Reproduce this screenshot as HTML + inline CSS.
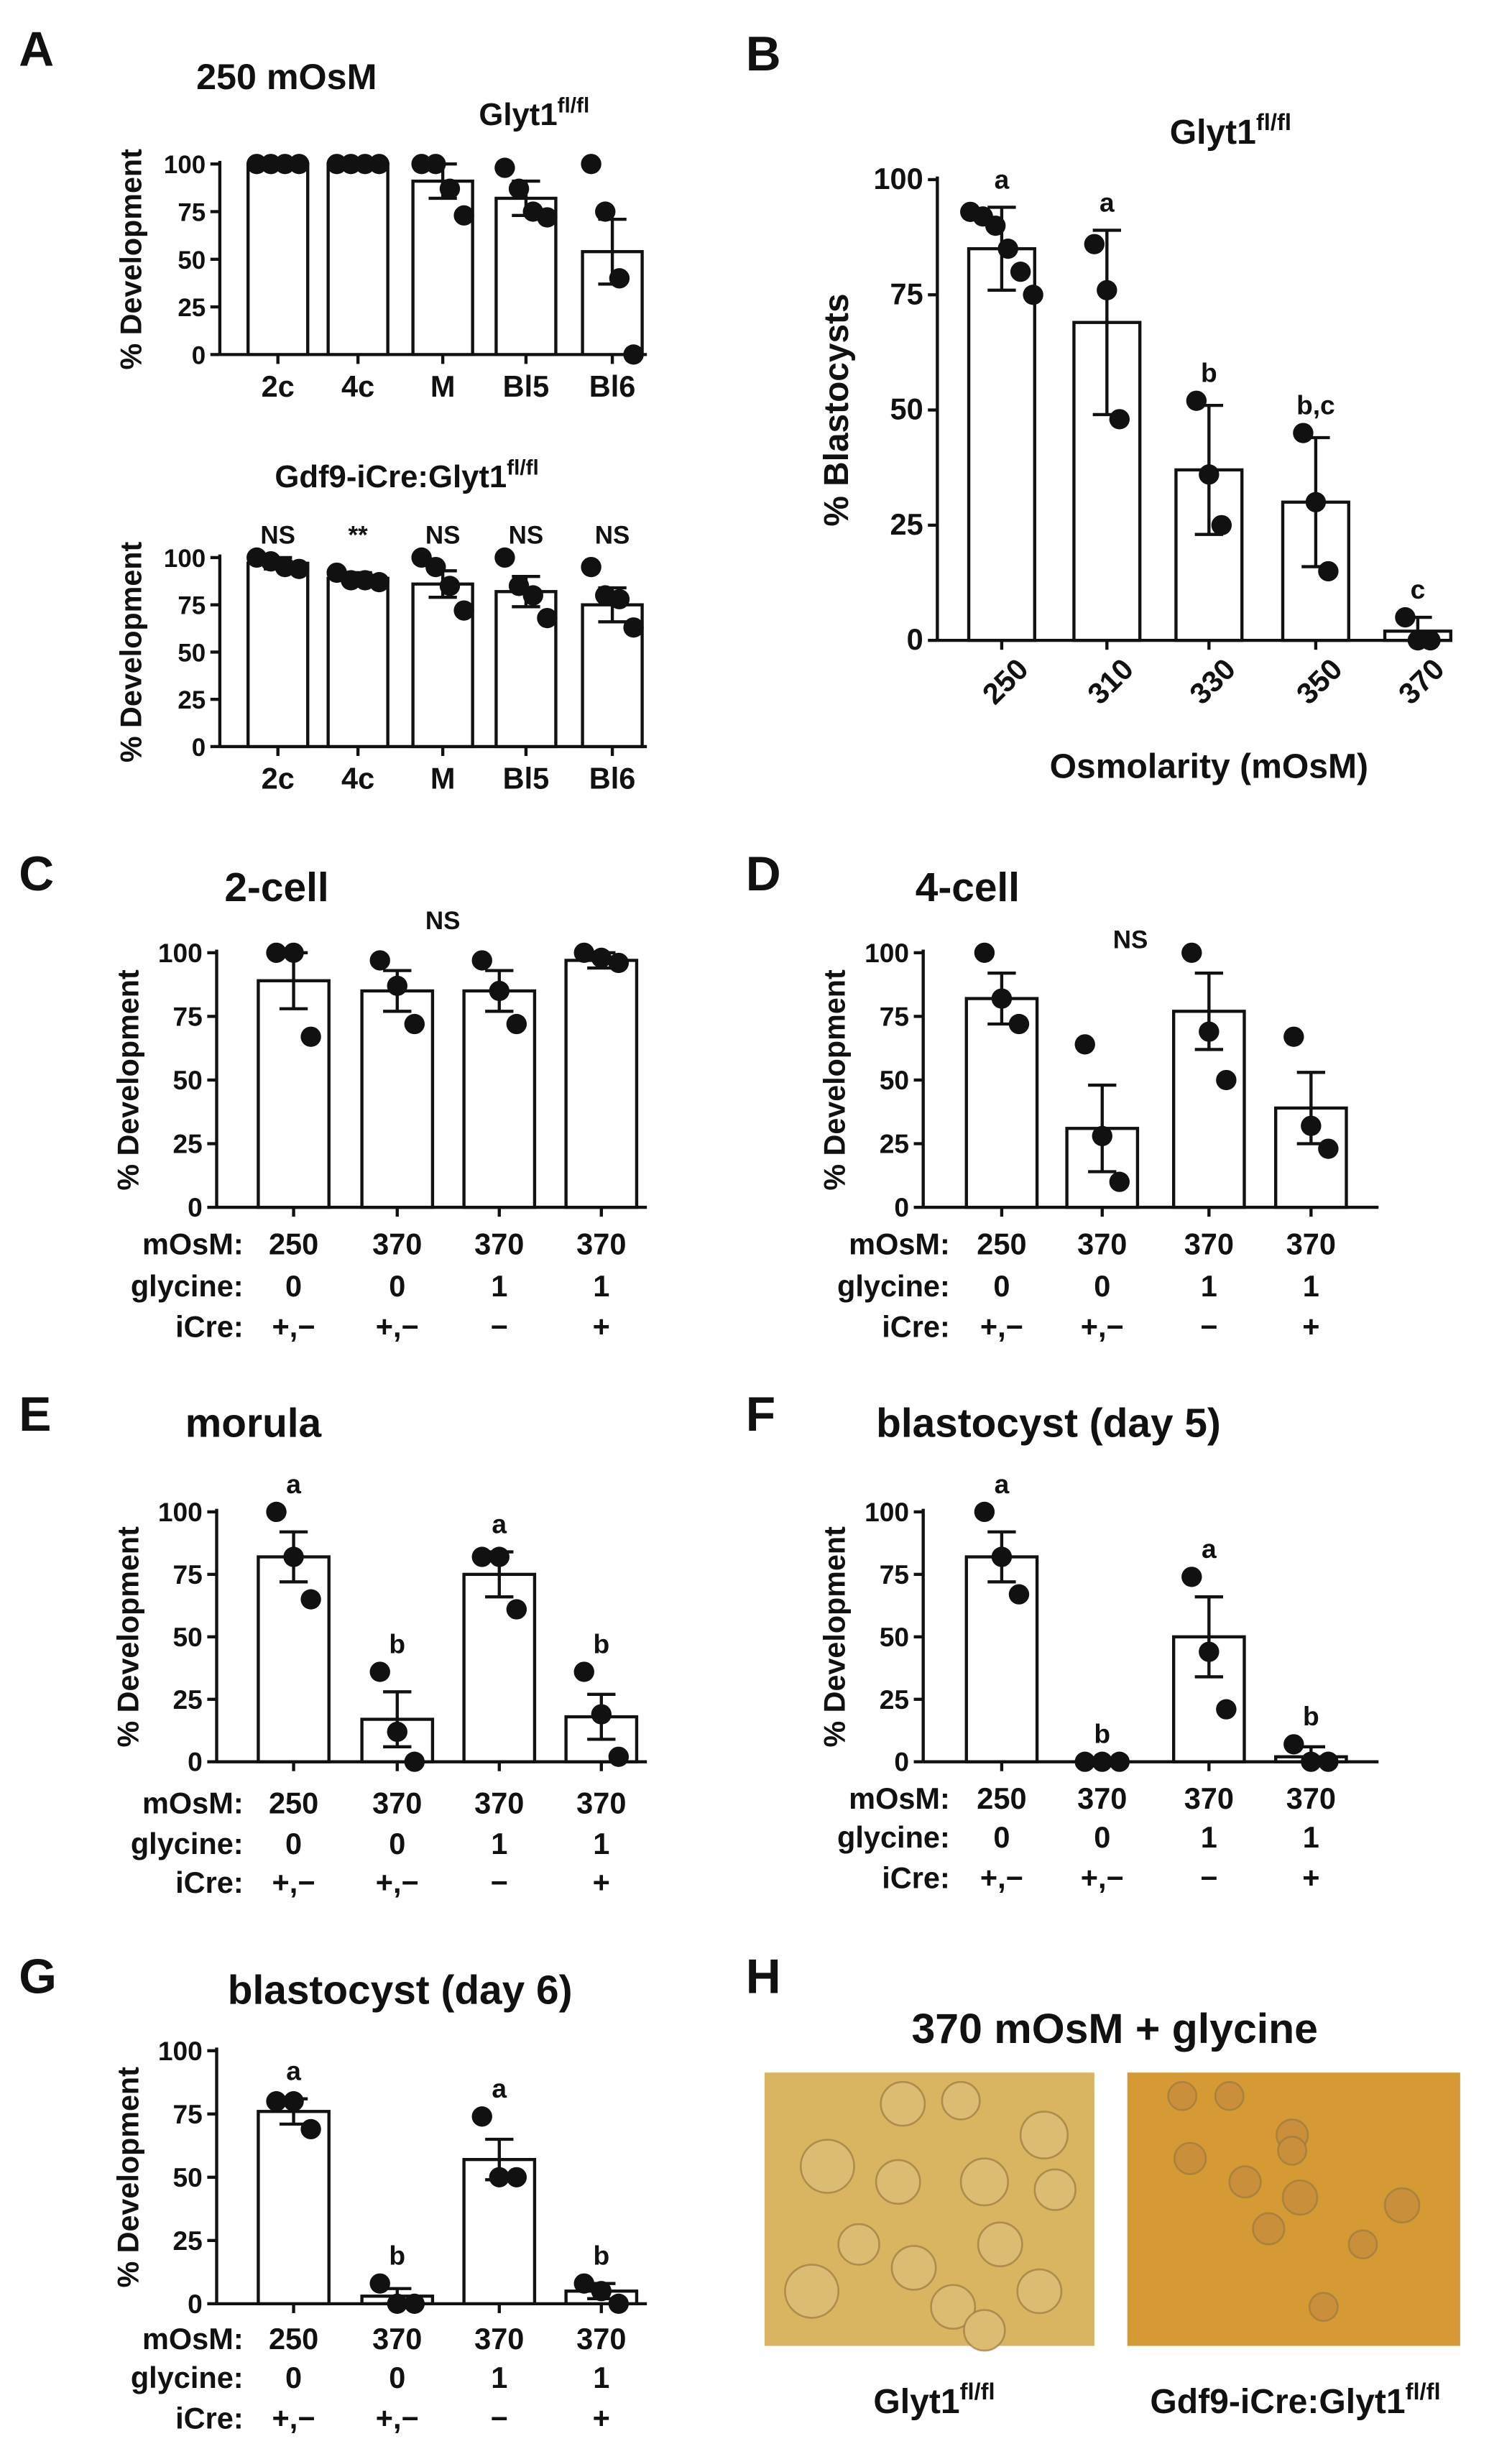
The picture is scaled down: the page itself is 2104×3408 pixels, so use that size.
<!DOCTYPE html>
<html><head><meta charset="utf-8"><style>
html,body{margin:0;padding:0;background:#fff}
svg{display:block}
text{font-family:"Liberation Sans",Arial,sans-serif;font-weight:bold;fill:#111}
</style></head><body>
<svg id="fig" width="2104" height="3408" viewBox="0 0 963 1568" preserveAspectRatio="none" xmlns="http://www.w3.org/2000/svg"></svg>
<script>
// ---- data ----
const aTopCats=["2c","4c","M","Bl5","Bl6"];
const aTopMeans=[100,100,91,82,54];
const aTopErr=[0,0,9,9,17];
const aTopPts=[[100,100,100,100],[100,100,100,100],[100,100,87,73],[98,87,75,72],[100,75,40,0]];
const aBotMeans=[97,89,86,82,75];
const aBotErr=[3,3,7,8,9];
const aBotPts=[[100,98,95,94],[92,88,88,87],[100,95,85,72],[100,85,80,68],[95,80,78,63]];
const aBotSig=["NS","**","NS","NS","NS"];
const bCats=["250","310","330","350","370"];
const bMeans=[85,69,37,30,2];
const bErr=[9,20,14,14,3];
const bPts=[[93,92,90,85,80,75],[86,76,48],[52,36,25],[45,30,15],[5,0,0]];
const bSig=["a","a","b","b,c","c"];
const rowOsm=["250","370","370","370"];
const rowGly=["0","0","1","1"];
const rowCre=["+,\u2212","+,\u2212","\u2212","+"];
const cMeans=[89,85,85,97], cErr=[11,8,8,3], cPts=[[100,100,67],[97,87,72],[97,85,72],[100,98,96]];
const dMeans=[82,31,77,39], dErr=[10,17,15,14], dPts=[[100,82,72],[64,28,10],[100,69,50],[67,32,23]];
const eMeans=[82,17,75,18], eErr=[10,11,9,9], ePts=[[100,82,65],[36,12,0],[82,82,61],[36,19,2]];
const eSig=["a","b","a","b"];
const fMeans=[82,0,50,2], fErr=[10,0,16,4], fPts=[[100,82,67],[0,0,0],[74,44,21],[7,0,0]];
const fSig=["a","b","a","b"];
const gMeans=[76,3,57,5], gErr=[5,3,8,3], gPts=[[80,80,69],[8,0,0],[74,50,50],[8,5,0]];
const gSig=["a","b","a","b"];
const yTicks=[0,25,50,75,100];

const NS="http://www.w3.org/2000/svg";
const svg=document.getElementById('fig');
function el(tag,attrs,parent,txt){const e=document.createElementNS(NS,tag);for(const k in attrs)e.setAttribute(k,attrs[k]);if(txt!==undefined)e.textContent=txt;(parent||svg).appendChild(e);return e;}
function txt(x,y,s,size,anchor,parent,extra){const t=el('text',Object.assign({x:x,y:y,'font-size':size,'text-anchor':anchor||'middle'},extra||{}),parent,s);return t;}

function panel(c){
  const g=el('g',{});
  
  
  const ys=v=>c.y0-(c.y0-c.y100)*v/100;
  // axes
  el('line',{x1:c.ax,y1:c.y100-2,x2:c.ax,y2:c.y0,stroke:'#111','stroke-width':2},g);
  el('line',{x1:c.ax,y1:c.y0,x2:c.xEnd,y2:c.y0,stroke:'#111','stroke-width':2},g);
  yTicks.forEach(t=>{
    el('line',{x1:c.ax-6,y1:ys(t),x2:c.ax,y2:ys(t),stroke:'#111','stroke-width':2},g);
    const tl=txt(c.ax-9,ys(t)+6,String(t),c.tfs||17,'end',g);
    
    
  });
  c.means.forEach((m,i)=>{
    const x=c.xs[i];
    const b=el('rect',{x:x-c.bw/2,y:ys(m),width:c.bw,height:c.y0-ys(m),fill:'#fff',stroke:'#111','stroke-width':2},g);
    
    
    el('line',{x1:x,y1:c.y0,x2:x,y2:c.y0+6,stroke:'#111','stroke-width':2},g);
    const e=c.err[i];
    if(e>0){
      el('line',{x1:x,y1:ys(m+e),x2:x,y2:ys(Math.max(0,m-e)),stroke:'#111','stroke-width':2},g);
      el('line',{x1:x-9,y1:ys(m+e),x2:x+9,y2:ys(m+e),stroke:'#111','stroke-width':2},g);
      el('line',{x1:x-9,y1:ys(Math.max(0,m-e)),x2:x+9,y2:ys(Math.max(0,m-e)),stroke:'#111','stroke-width':2},g);
    }
    const pts=c.pts[i];
    const n=pts.length;
    pts.forEach((p,j)=>{
      const dx=n>1?(j-(n-1)/2)*(c.spread||11):0;
      const d=el('circle',{cx:x+dx,cy:ys(p),r:6.5,fill:'#111'},g);
      
      
    });
    if(c.sig){
      const top=Math.max(m+e,...pts);
      const s=txt(x,ys(top)-12,c.sig[i],17,'middle',g);
      
      
    }
    if(c.cats){
      if(c.rot){
        const l=txt(x+4,c.y0+32,c.cats[i],19,'middle',g,{transform:`rotate(-45 ${x+4} ${c.y0+28})`});
        
        
      } else {
        const l=txt(x,c.y0+27,c.cats[i],19,'middle',g);
        
        
      }
    }
  });
  const yl=txt(0,0,c.ylabel,c.yfs||19,'middle',g,{transform:`translate(${c.ylx},${(c.y0+c.y100)/2}) rotate(-90)`});
  
  
  if(c.rows){
    const labs=["mOsM:","glycine:","iCre:"];
    const vals=[rowOsm,rowGly,rowCre];
    c.rows.forEach((ry,k)=>{
      const l=txt(c.rowLabX,ry,labs[k],19,'end',g);
      
      
      vals[k].forEach((v,i)=>{
        const t=txt(c.xs[i],ry,v,19,'middle',g);
        
        
      });
    });
  }
  return g;
}
function title(x,y,s,size,name,anchor){const t=txt(x,y,s,size,anchor||'start');return t;}
function supTitle(x,y,base,sup,size,name,anchor){
  const t=el('text',{x:x,y:y,'font-size':size,'text-anchor':anchor||'start'});
  
  
  el('tspan',{},t,base);
  el('tspan',{'font-size':size*0.68,dy:-size*0.4},t,sup);
  return t;
}

// panel letters
[["A",12,42],["B",475,45],["C",12,570],["D",475,570],["E",12,916],["F",475,916],["G",12,1276],["H",475,1276]].forEach(p=>{
  const t=txt(p[1],p[2],p[0],31,'start');
  
  
});

// A
title(125,57,"250 mOsM",23,'panel-a-title');
supTitle(305,80,"Glyt1","fl/fl",20,'panel-a-genotype');
panel({name:'panel-a-top-chart',ax:140,y100:105,y0:227,xEnd:412,xs:[177,228,282,335,390],bw:38,means:aTopMeans,err:aTopErr,pts:aTopPts,cats:aTopCats,ylabel:"% Development",ylx:90,spread:9,tfs:16});
supTitle(175,312,"Gdf9-iCre:Glyt1","fl/fl",20,'panel-a-bottom-title');
panel({name:'panel-a-bottom-chart',ax:140,y100:357,y0:478,xEnd:412,xs:[177,228,282,335,390],bw:38,means:aBotMeans,err:aBotErr,pts:aBotPts,cats:aTopCats,ylabel:"% Development",ylx:90,spread:9,tfs:16});
aBotSig.forEach((s,i)=>{const t=txt([177,228,282,335,390][i],348,s,16,'middle');});

// B
supTitle(745,92,"Glyt1","fl/fl",22,'panel-b-title');
panel({name:'panel-b-chart',ax:597,y100:115,y0:410,xEnd:925,xs:[638,705,770,838,903],bw:42,means:bMeans,err:bErr,pts:bPts,cats:bCats,rot:true,sig:bSig,ylabel:"% Blastocysts",ylx:540,yfs:22,tfs:19,spread:8});
title(770,498,"Osmolarity (mOsM)",22,'x-axis-title','middle');

// C
title(143,577,"2-cell",26,'panel-c-title');
title(282,595,"NS",16,'significance-label','middle');
panel({name:'panel-c-chart',ax:138,y100:610,y0:773,xEnd:412,xs:[187,253,318,383],bw:45,means:cMeans,err:cErr,pts:cPts,rows:[803,830,856],rowLabX:155,ylabel:"% Development",ylx:88});
// D
title(583,577,"4-cell",26,'panel-d-title');
title(720,607,"NS",16,'significance-label','middle');
panel({name:'panel-d-chart',ax:588,y100:610,y0:773,xEnd:878,xs:[638,702,770,835],bw:45,means:dMeans,err:dErr,pts:dPts,rows:[803,830,856],rowLabX:605,ylabel:"% Development",ylx:538});
// E
title(118,920,"morula",26,'panel-e-title');
panel({name:'panel-e-chart',ax:138,y100:968,y0:1128,xEnd:412,xs:[187,253,318,383],bw:45,means:eMeans,err:eErr,pts:ePts,sig:eSig,rows:[1161,1187,1212],rowLabX:155,ylabel:"% Development",ylx:88});
// F
title(558,920,"blastocyst (day 5)",26,'panel-f-title');
panel({name:'panel-f-chart',ax:588,y100:968,y0:1128,xEnd:878,xs:[638,702,770,835],bw:45,means:fMeans,err:fErr,pts:fPts,sig:fSig,rows:[1158,1183,1209],rowLabX:605,ylabel:"% Development",ylx:538});
// G
title(145,1283,"blastocyst (day 6)",26,'panel-g-title');
panel({name:'panel-g-chart',ax:138,y100:1313,y0:1475,xEnd:412,xs:[187,253,318,383],bw:45,means:gMeans,err:gErr,pts:gPts,sig:gSig,rows:[1504,1529,1555],rowLabX:155,ylabel:"% Development",ylx:88});

// H
title(710,1308,"370 mOsM + glycine",27,'panel-h-title','middle');
function micro(x,y,w,h,fill,cells,cellFill,name){
  const g=el('g',{});
  
  
  el('rect',{x:x,y:y,width:w,height:h,fill:fill},g);
  cells.forEach(c=>{
    el('circle',{cx:x+c[0],cy:y+c[1],r:c[2],fill:cellFill,stroke:'#9a7a40','stroke-width':1.2,'stroke-opacity':0.7},g);
  });
}
micro(487,1327,210,175,'#d9b461',[[88,20,14],[125,18,12],[178,40,15],[40,60,17],[85,70,14],[140,70,15],[185,75,13],[60,110,13],[30,140,17],[95,125,14],[150,110,14],[120,150,14],[175,140,14],[140,165,13]],'#dcbc72','micrograph-control');
micro(718,1327,212,175,'#d59a33',[[35,15,9],[65,15,9],[105,40,10],[40,55,10],[75,70,10],[110,80,11],[90,100,10],[150,110,9],[175,85,11],[125,150,9],[105,50,9]],'#c98f3a','micrograph-knockout');
supTitle(595,1545,"Glyt1","fl/fl",22,'caption-control','middle');
supTitle(825,1545,"Gdf9-iCre:Glyt1","fl/fl",22,'caption-knockout','middle');
</script>
</body></html>
